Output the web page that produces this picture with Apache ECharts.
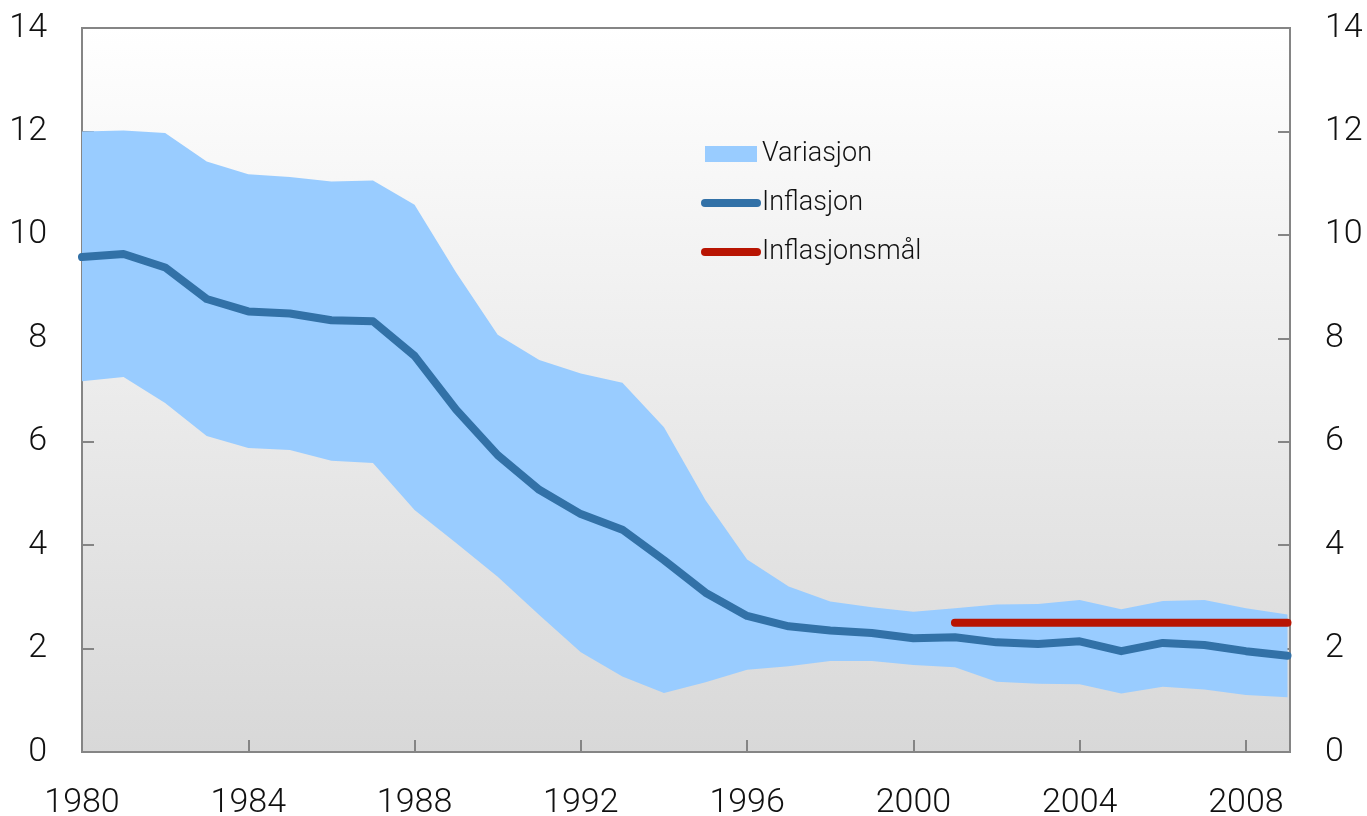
<!DOCTYPE html>
<html>
<head>
<meta charset="utf-8">
<script src="https://cdn.jsdelivr.net/npm/echarts@6/dist/echarts.min.js"></script>
<style>
  html, body { margin: 0; padding: 0; background: #ffffff; }
  #chart { width: 1367px; height: 816px; }
</style>
</head>
<body>
<div id="chart"></div>
<script>
const years = [1980,1981,1982,1983,1984,1985,1986,1987,1988,1989,1990,1991,1992,1993,1994,1995,1996,1997,1998,1999,2000,2001,2002,2003,2004,2005,2006,2007,2008,2009];
const upper = [12.00,12.02,11.97,11.42,11.17,11.12,11.03,11.05,10.58,9.27,8.07,7.58,7.32,7.14,6.28,4.87,3.72,3.20,2.91,2.80,2.71,2.78,2.85,2.86,2.94,2.76,2.92,2.94,2.78,2.66];
const lower = [7.17,7.25,6.75,6.11,5.88,5.84,5.63,5.59,4.68,4.04,3.39,2.65,1.93,1.46,1.14,1.35,1.59,1.66,1.76,1.76,1.68,1.64,1.36,1.32,1.31,1.13,1.26,1.21,1.10,1.06];
const inflasjon = [9.57,9.63,9.37,8.76,8.52,8.48,8.35,8.33,7.66,6.62,5.74,5.07,4.60,4.30,3.71,3.08,2.63,2.43,2.35,2.30,2.20,2.22,2.12,2.09,2.14,1.95,2.11,2.07,1.95,1.86];
const targetYears = [2001,2009];
const targetValues = [2.5,2.5];
const yTicks = [0,2,4,6,8,10,12,14];
const xTickYears = [1980,1984,1988,1992,1996,2000,2004,2008];

const bandColor = '#99ccff';
const lineColor = '#3271a7';
const redColor = '#b81402';
const axisColor = '#858585';
const fontFamily = 'Roboto, "Liberation Sans", sans-serif';
const fontWeight = 300;

const bandData = years.map((y, i) => [y, lower[i], upper[i]]);
const lineData = years.map((y, i) => [y, inflasjon[i]]);
const targetData = targetYears.map((y, i) => [y, targetValues[i]]);

const chart = echarts.init(document.getElementById('chart'), null, { renderer: 'canvas' });

const yAxisCommon = {
  type: 'value',
  min: 0,
  max: 14,
  interval: 2,
  splitLine: { show: false },
  axisLine: { show: true, lineStyle: { color: axisColor, width: 2 } },
  axisTick: { show: true, inside: true, length: 12, lineStyle: { color: axisColor, width: 2 } },
  axisLabel: { color: '#111', fontSize: 34, fontFamily: fontFamily, fontWeight: fontWeight, margin: 35 }
};

function renderBand(params, api) {
  if (params.dataIndex !== 0) return null;
  const pts = [];
  for (let i = 0; i < bandData.length; i++) pts.push(api.coord([bandData[i][0], bandData[i][2]]));
  for (let i = bandData.length - 1; i >= 0; i--) pts.push(api.coord([bandData[i][0], bandData[i][1]]));
  return {
    type: 'polygon',
    shape: { points: pts },
    style: { fill: bandColor, stroke: null }
  };
}

chart.setOption({
  animation: false,
  backgroundColor: '#ffffff',
  grid: {
    left: 82, right: 77, top: 28, bottom: 64,
    outerBoundsMode: 'none',
    containLabel: false,
    show: true,
    borderColor: axisColor,
    borderWidth: 2,
    backgroundColor: {
      type: 'linear', x: 0, y: 0, x2: 0, y2: 1,
      colorStops: [{ offset: 0, color: '#ffffff' }, { offset: 1, color: '#d8d8d8' }]
    }
  },
  legend: {
    orient: 'vertical',
    left: 701,
    top: 139,
    padding: 0,
    itemWidth: 52,
    itemHeight: 16,
    itemGap: 19,
    itemTextGap: 5,
    textStyle: { fontSize: 27, fontFamily: fontFamily, fontWeight: fontWeight, color: '#111', lineHeight: 30 },
    data: [
      { name: 'Variasjon', icon: 'rect', itemStyle: { color: bandColor, borderWidth: 0 } },
      { name: 'Inflasjon', itemStyle: { opacity: 0 }, lineStyle: { width: 8, color: lineColor, cap: 'round' } },
      { name: 'Inflasjonsmål', itemStyle: { opacity: 0 }, lineStyle: { width: 8, color: redColor, cap: 'round' } }
    ]
  },
  xAxis: {
    type: 'value',
    min: 1980,
    max: 2009.06,
    interval: 4,
    splitLine: { show: false },
    axisLine: { show: true, lineStyle: { color: axisColor, width: 2 } },
    axisTick: { show: true, inside: true, length: 12, lineStyle: { color: axisColor, width: 2 } },
    axisLabel: {
      color: '#111', fontSize: 34, fontFamily: fontFamily, fontWeight: fontWeight, margin: 34,
      showMaxLabel: false,
      formatter: function (v) { return xTickYears.indexOf(v) >= 0 ? String(v) : ''; }
    }
  },
  yAxis: [
    Object.assign({}, yAxisCommon, { position: 'left' }),
    Object.assign({}, yAxisCommon, { position: 'right' })
  ],
  series: [
    {
      name: 'Variasjon', type: 'custom', data: bandData,
      encode: { x: 0, y: [1, 2] },
      itemStyle: { color: bandColor },
      renderItem: renderBand,
      silent: true,
      clip: true
    },
    {
      name: 'Inflasjon', type: 'line', data: lineData, symbol: 'none',
      itemStyle: { color: lineColor },
      lineStyle: { width: 8, color: lineColor, cap: 'round', join: 'round' }
    },
    {
      name: 'Inflasjonsmål', type: 'line', data: targetData, symbol: 'none',
      itemStyle: { color: redColor },
      lineStyle: { width: 8, color: redColor, cap: 'round' }
    }
  ]
});
</script>
</body>
</html>
